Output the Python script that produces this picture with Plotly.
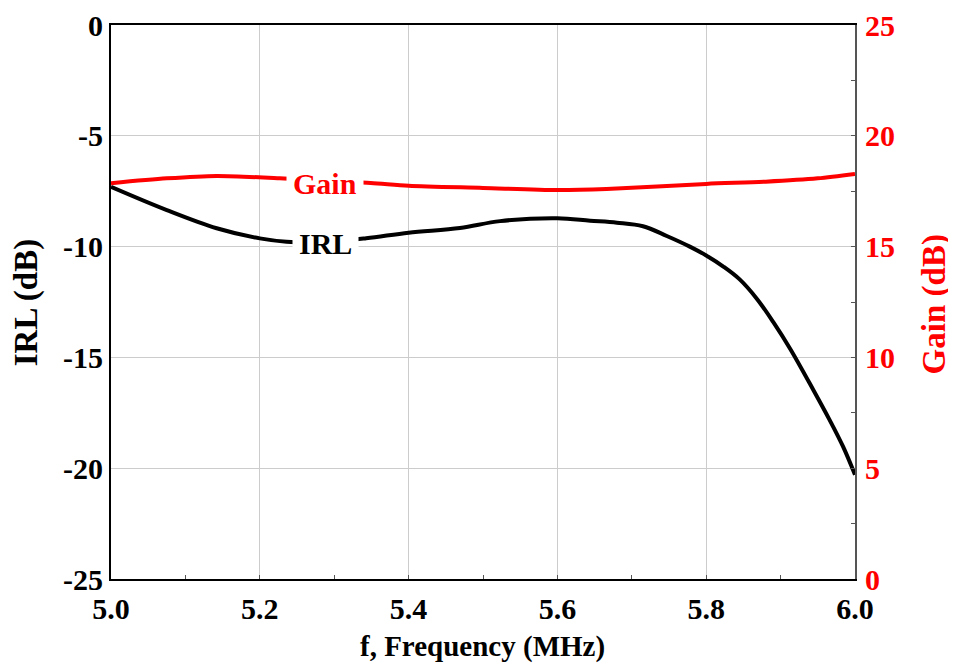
import plotly.graph_objects as go

# Data
irl_freq = [5.000, 5.075, 5.142, 5.200, 5.236, 5.290, 5.343, 5.400, 5.469, 5.523, 5.600,
            5.644, 5.680, 5.715, 5.747, 5.778, 5.800, 5.823, 5.845, 5.868, 5.890,
            5.913, 5.944, 5.966, 5.984, 6.000]
irl_db = [-7.30, -8.35, -9.17, -9.63, -9.78, -9.78, -9.62, -9.37, -9.16, -8.85, -8.72,
          -8.83, -8.92, -9.08, -9.52, -10.00, -10.40, -10.90, -11.48, -12.35, -13.40,
          -14.62, -16.47, -17.83, -19.03, -20.30]

gain_freq = [5.000, 5.075, 5.142, 5.227, 5.290, 5.349, 5.400, 5.500, 5.600, 5.666,
             5.800, 5.880, 5.950, 6.000]
gain_db = [17.86, 18.08, 18.19, 18.08, 17.95, 17.87, 17.75, 17.65, 17.55, 17.60,
           17.83, 17.93, 18.08, 18.28]

x_ticks = [5.0, 5.2, 5.4, 5.6, 5.8, 6.0]
x_ticklabels = ["5.0", "5.2", "5.4", "5.6", "5.8", "6.0"]
irl_ticks = [0, -5, -10, -15, -20, -25]
irl_ticklabels = ["0", "-5", "-10", "-15", "-20", "-25"]
gain_ticks = [0, 5, 10, 15, 20, 25]
gain_ticklabels = ["0", "5", "10", "15", "20", "25"]

FONT = "Liberation Serif"
RED = "#ff0000"

fig = go.Figure()
fig.add_trace(go.Scatter(x=irl_freq, y=irl_db, mode="lines", name="IRL",
                         line=dict(color="black", width=4, shape="spline", smoothing=1.0),
                         yaxis="y"))
fig.add_trace(go.Scatter(x=gain_freq, y=gain_db, mode="lines", name="Gain",
                         line=dict(color=RED, width=4, shape="spline", smoothing=0.8),
                         yaxis="y2"))

fig.add_annotation(x=5.288, y=-9.84, xref="x", yref="y", text="IRL", showarrow=False,
                   font=dict(family=FONT, size=30, color="black", weight="bold"),
                   bgcolor="white", borderpad=6)
fig.add_annotation(x=5.288, y=17.87, xref="x", yref="y2", text="Gain", showarrow=False,
                   font=dict(family=FONT, size=30, color=RED, weight="bold"),
                   bgcolor="white", borderpad=6)

# axis titles as paper annotations
fig.add_annotation(x=0.499, y=-0.121, xref="paper", yref="paper", text="f, Frequency (MHz)",
                   showarrow=False, xanchor="center", yanchor="middle",
                   font=dict(family=FONT, size=29, color="black", weight="bold"))
fig.add_annotation(x=-0.114, y=0.498, xref="paper", yref="paper", text="IRL (dB)",
                   showarrow=False, xanchor="center", yanchor="middle", textangle=-90,
                   font=dict(family=FONT, size=33, color="black", weight="bold"))
fig.add_annotation(x=1.107, y=0.495, xref="paper", yref="paper", text="Gain (dB)",
                   showarrow=False, xanchor="center", yanchor="middle", textangle=-90,
                   font=dict(family=FONT, size=33, color=RED, weight="bold"))

tickfont_black = dict(family=FONT, size=30, color="black", weight="bold")
tickfont_red = dict(family=FONT, size=30, color=RED, weight="bold")

# page body has an 8px default margin, so the figure is offset by 8px
fig.update_layout(
    width=948, height=660,
    margin=dict(l=103, r=101, t=17, b=89),
    plot_bgcolor="white", paper_bgcolor="white",
    showlegend=False,
    font=dict(family=FONT, size=28, color="black"),
    xaxis=dict(range=[5.0, 6.0], tickvals=x_ticks, ticktext=x_ticklabels,
               automargin=False,
               showgrid=True, gridcolor="#cccccc", gridwidth=1,
               showline=True, linecolor="black", linewidth=2, mirror=True,
               ticks="inside", ticklen=0,
               minor=dict(dtick=0.1, ticks="inside", ticklen=4, tickcolor="#555", showgrid=False),
               tickfont=tickfont_black, ticklabelstandoff=2,
               zeroline=False),
    yaxis=dict(range=[-25, 0], tickvals=irl_ticks, ticktext=irl_ticklabels,
               automargin=False,
               showgrid=True, gridcolor="#cccccc", gridwidth=1,
               showline=True, linecolor="black", linewidth=2,
               ticks="", zeroline=False,
               tickfont=tickfont_black, ticklabelstandoff=0),
    yaxis2=dict(range=[0, 25], tickvals=gain_ticks, ticktext=gain_ticklabels,
                overlaying="y", side="right", automargin=False,
                showgrid=False, showline=True, linecolor="#555", linewidth=2,
                ticks="inside", ticklen=0,
                minor=dict(dtick=2.5, ticks="inside", ticklen=4, tickcolor="#555"),
                zeroline=False,
                tickfont=tickfont_red, ticklabelstandoff=2),
)

fig.write_html("out.html")
